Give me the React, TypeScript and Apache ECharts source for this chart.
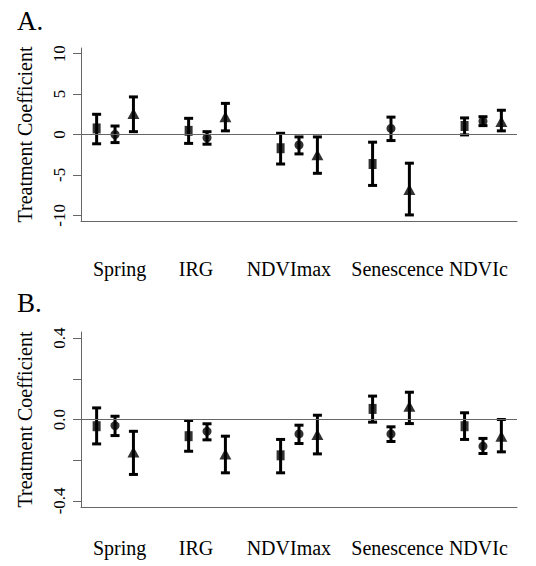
import React, { useEffect, useRef } from "react";
import * as echarts from "echarts";

const categories = ["Spring", "IRG", "NDVImax", "Senescence", "NDVIc"];
const labelPositions = [1.05, 1.88, 2.89, 4.07, 4.95];
const groupOffsets = [-0.2, 0, 0.2];

// Panel A
const aSquareMean = [0.75, 0.45, -1.7, -3.65, 1.05];
const aSquareLow = [-1.15, -1.1, -3.65, -6.3, -0.05];
const aSquareHigh = [2.5, 2.0, 0.15, -0.95, 2.05];
const aCircleMean = [0.0, -0.4, -1.3, 0.75, 1.65];
const aCircleLow = [-1.0, -1.2, -2.4, -0.75, 1.1];
const aCircleHigh = [1.05, 0.35, -0.3, 2.15, 2.2];
const aTriMean = [2.6, 2.2, -2.5, -6.8, 1.6];
const aTriLow = [0.35, 0.45, -4.8, -9.95, 0.45];
const aTriHigh = [4.65, 3.85, -0.3, -3.55, 3.0];
const aTicks = [-10, -5, 0, 5, 10];
const aLabels = [-10, -5, 0, 5, 10];

// Panel B
const bSquareMean = [-0.033, -0.082, -0.176, 0.052, -0.033];
const bSquareLow = [-0.12, -0.156, -0.262, -0.013, -0.098];
const bSquareHigh = [0.057, -0.005, -0.098, 0.115, 0.033];
const bCircleMean = [-0.03, -0.058, -0.071, -0.071, -0.131];
const bCircleLow = [-0.079, -0.1, -0.118, -0.108, -0.167];
const bCircleHigh = [0.016, -0.021, -0.028, -0.036, -0.093];
const bTriMean = [-0.16, -0.17, -0.074, 0.065, -0.082];
const bTriLow = [-0.27, -0.262, -0.169, -0.02, -0.159];
const bTriHigh = [-0.058, -0.082, 0.021, 0.134, 0.0];
const bTicks = [-0.4, -0.2, 0, 0.2, 0.4];
const bLabels = [-0.4, 0, 0.4];

const FONT = "'Liberation Serif', 'Times New Roman', serif";
const AXIS_COLOR = "#666";

function errSeries(low: number[], high: number[], k: number, idx: number) {
  return {
    type: "custom",
    xAxisIndex: idx,
    yAxisIndex: idx,
    silent: true,
    z: 2,
    data: low.map((l, i) => [i + 1 + groupOffsets[k], l, high[i]]),
    encode: { x: 0, y: [1, 2] },
    renderItem: (params: any, api: any) => {
      const x = api.value(0);
      const lo = api.coord([x, api.value(1)]);
      const hi = api.coord([x, api.value(2)]);
      const w = 4.5;
      const style = { stroke: "#000", lineWidth: 3 };
      return {
        type: "group",
        children: [
          { type: "line", shape: { x1: lo[0], y1: lo[1], x2: hi[0], y2: hi[1] }, style },
          { type: "line", shape: { x1: lo[0] - w, y1: lo[1], x2: lo[0] + w, y2: lo[1] }, style },
          { type: "line", shape: { x1: hi[0] - w, y1: hi[1], x2: hi[0] + w, y2: hi[1] }, style },
        ],
      };
    },
  };
}

const symbols: any[] = [
  { symbol: "rect", size: [8, 10] },
  { symbol: "circle", size: 9 },
  { symbol: "triangle", size: [12, 11] },
];

function pointSeries(mean: number[], k: number, idx: number) {
  return {
    type: "scatter",
    xAxisIndex: idx,
    yAxisIndex: idx,
    silent: true,
    z: 3,
    symbol: symbols[k].symbol,
    symbolSize: symbols[k].size,
    itemStyle: { color: "#000" },
    data: mean.map((m, i) => [i + 1 + groupOffsets[k], m]),
  };
}

function zeroLine(idx: number) {
  return {
    type: "line",
    xAxisIndex: idx,
    yAxisIndex: idx,
    silent: true,
    data: [],
    markLine: {
      silent: true,
      symbol: "none",
      label: { show: false },
      lineStyle: { color: AXIS_COLOR, width: 1, type: "solid" },
      data: [{ yAxis: 0 }],
    },
  };
}

function xAxis(idx: number, margin: number) {
  return {
    type: "value",
    gridIndex: idx,
    min: 0.63,
    max: 5.37,
    splitLine: { show: false },
    axisTick: { show: false },
    axisLine: { show: true, onZero: false, lineStyle: { color: AXIS_COLOR, width: 1 } },
    axisLabel: {
      customValues: labelPositions,
      margin,
      fontFamily: FONT,
      fontSize: 20,
      color: "#000",
      formatter: (v: number) => {
        const i = labelPositions.findIndex((p) => Math.abs(p - v) < 1e-6);
        return i >= 0 ? categories[i] : "";
      },
    },
  };
}

function yAxis(idx: number, min: number, max: number, ticks: number[], labels: number[], fmt: (v: number) => string) {
  return {
    type: "value",
    gridIndex: idx,
    min,
    max,
    name: "Treatment Coefficient",
    nameLocation: "middle",
    nameRotate: 90,
    nameGap: 46,
    nameTextStyle: { fontFamily: FONT, fontSize: 20, color: "#000" },
    splitLine: { show: false },
    axisLine: { show: true, lineStyle: { color: AXIS_COLOR, width: 1 } },
    axisTick: { show: true, customValues: ticks, length: 8, lineStyle: { color: AXIS_COLOR } },
    axisLabel: {
      customValues: labels,
      rotate: 90,
      margin: 13,
      fontFamily: FONT,
      fontSize: 17,
      color: "#000",
      formatter: fmt,
    },
  };
}

export default function App() {
  const ref = useRef<HTMLDivElement>(null);
  useEffect(() => {
    if (!ref.current) return;
    const chart = echarts.init(ref.current, null, { renderer: "svg" });
    chart.setOption({
      animation: false,
      backgroundColor: "#fff",
      grid: [
        { left: 81, top: 48, width: 436, height: 173 },
        { left: 81, top: 332, width: 436, height: 175 },
      ],
      xAxis: [xAxis(0, 38), xAxis(1, 31)],
      yAxis: [
        yAxis(0, -10.7, 10.7, aTicks, aLabels, (v) => String(Math.round(v))),
        yAxis(1, -0.43, 0.43, bTicks, bLabels, (v) => (Math.abs(v) < 1e-9 ? "0.0" : v.toFixed(1))),
      ],
      graphic: [
        { type: "text", left: 17, top: 7, style: { text: "A.", font: `27px ${FONT}`, fill: "#000" } },
        { type: "text", left: 17, top: 289, style: { text: "B.", font: `27px ${FONT}`, fill: "#000" } },
      ],
      series: [
        zeroLine(0),
        errSeries(aSquareLow, aSquareHigh, 0, 0),
        errSeries(aCircleLow, aCircleHigh, 1, 0),
        errSeries(aTriLow, aTriHigh, 2, 0),
        pointSeries(aSquareMean, 0, 0),
        pointSeries(aCircleMean, 1, 0),
        pointSeries(aTriMean, 2, 0),
        zeroLine(1),
        errSeries(bSquareLow, bSquareHigh, 0, 1),
        errSeries(bCircleLow, bCircleHigh, 1, 1),
        errSeries(bTriLow, bTriHigh, 2, 1),
        pointSeries(bSquareMean, 0, 1),
        pointSeries(bCircleMean, 1, 1),
        pointSeries(bTriMean, 2, 1),
      ],
    });
    return () => chart.dispose();
  }, []);
  return <div ref={ref} style={{ width: 536, height: 566, position: "absolute", left: 0, top: 0 }} />;
}
